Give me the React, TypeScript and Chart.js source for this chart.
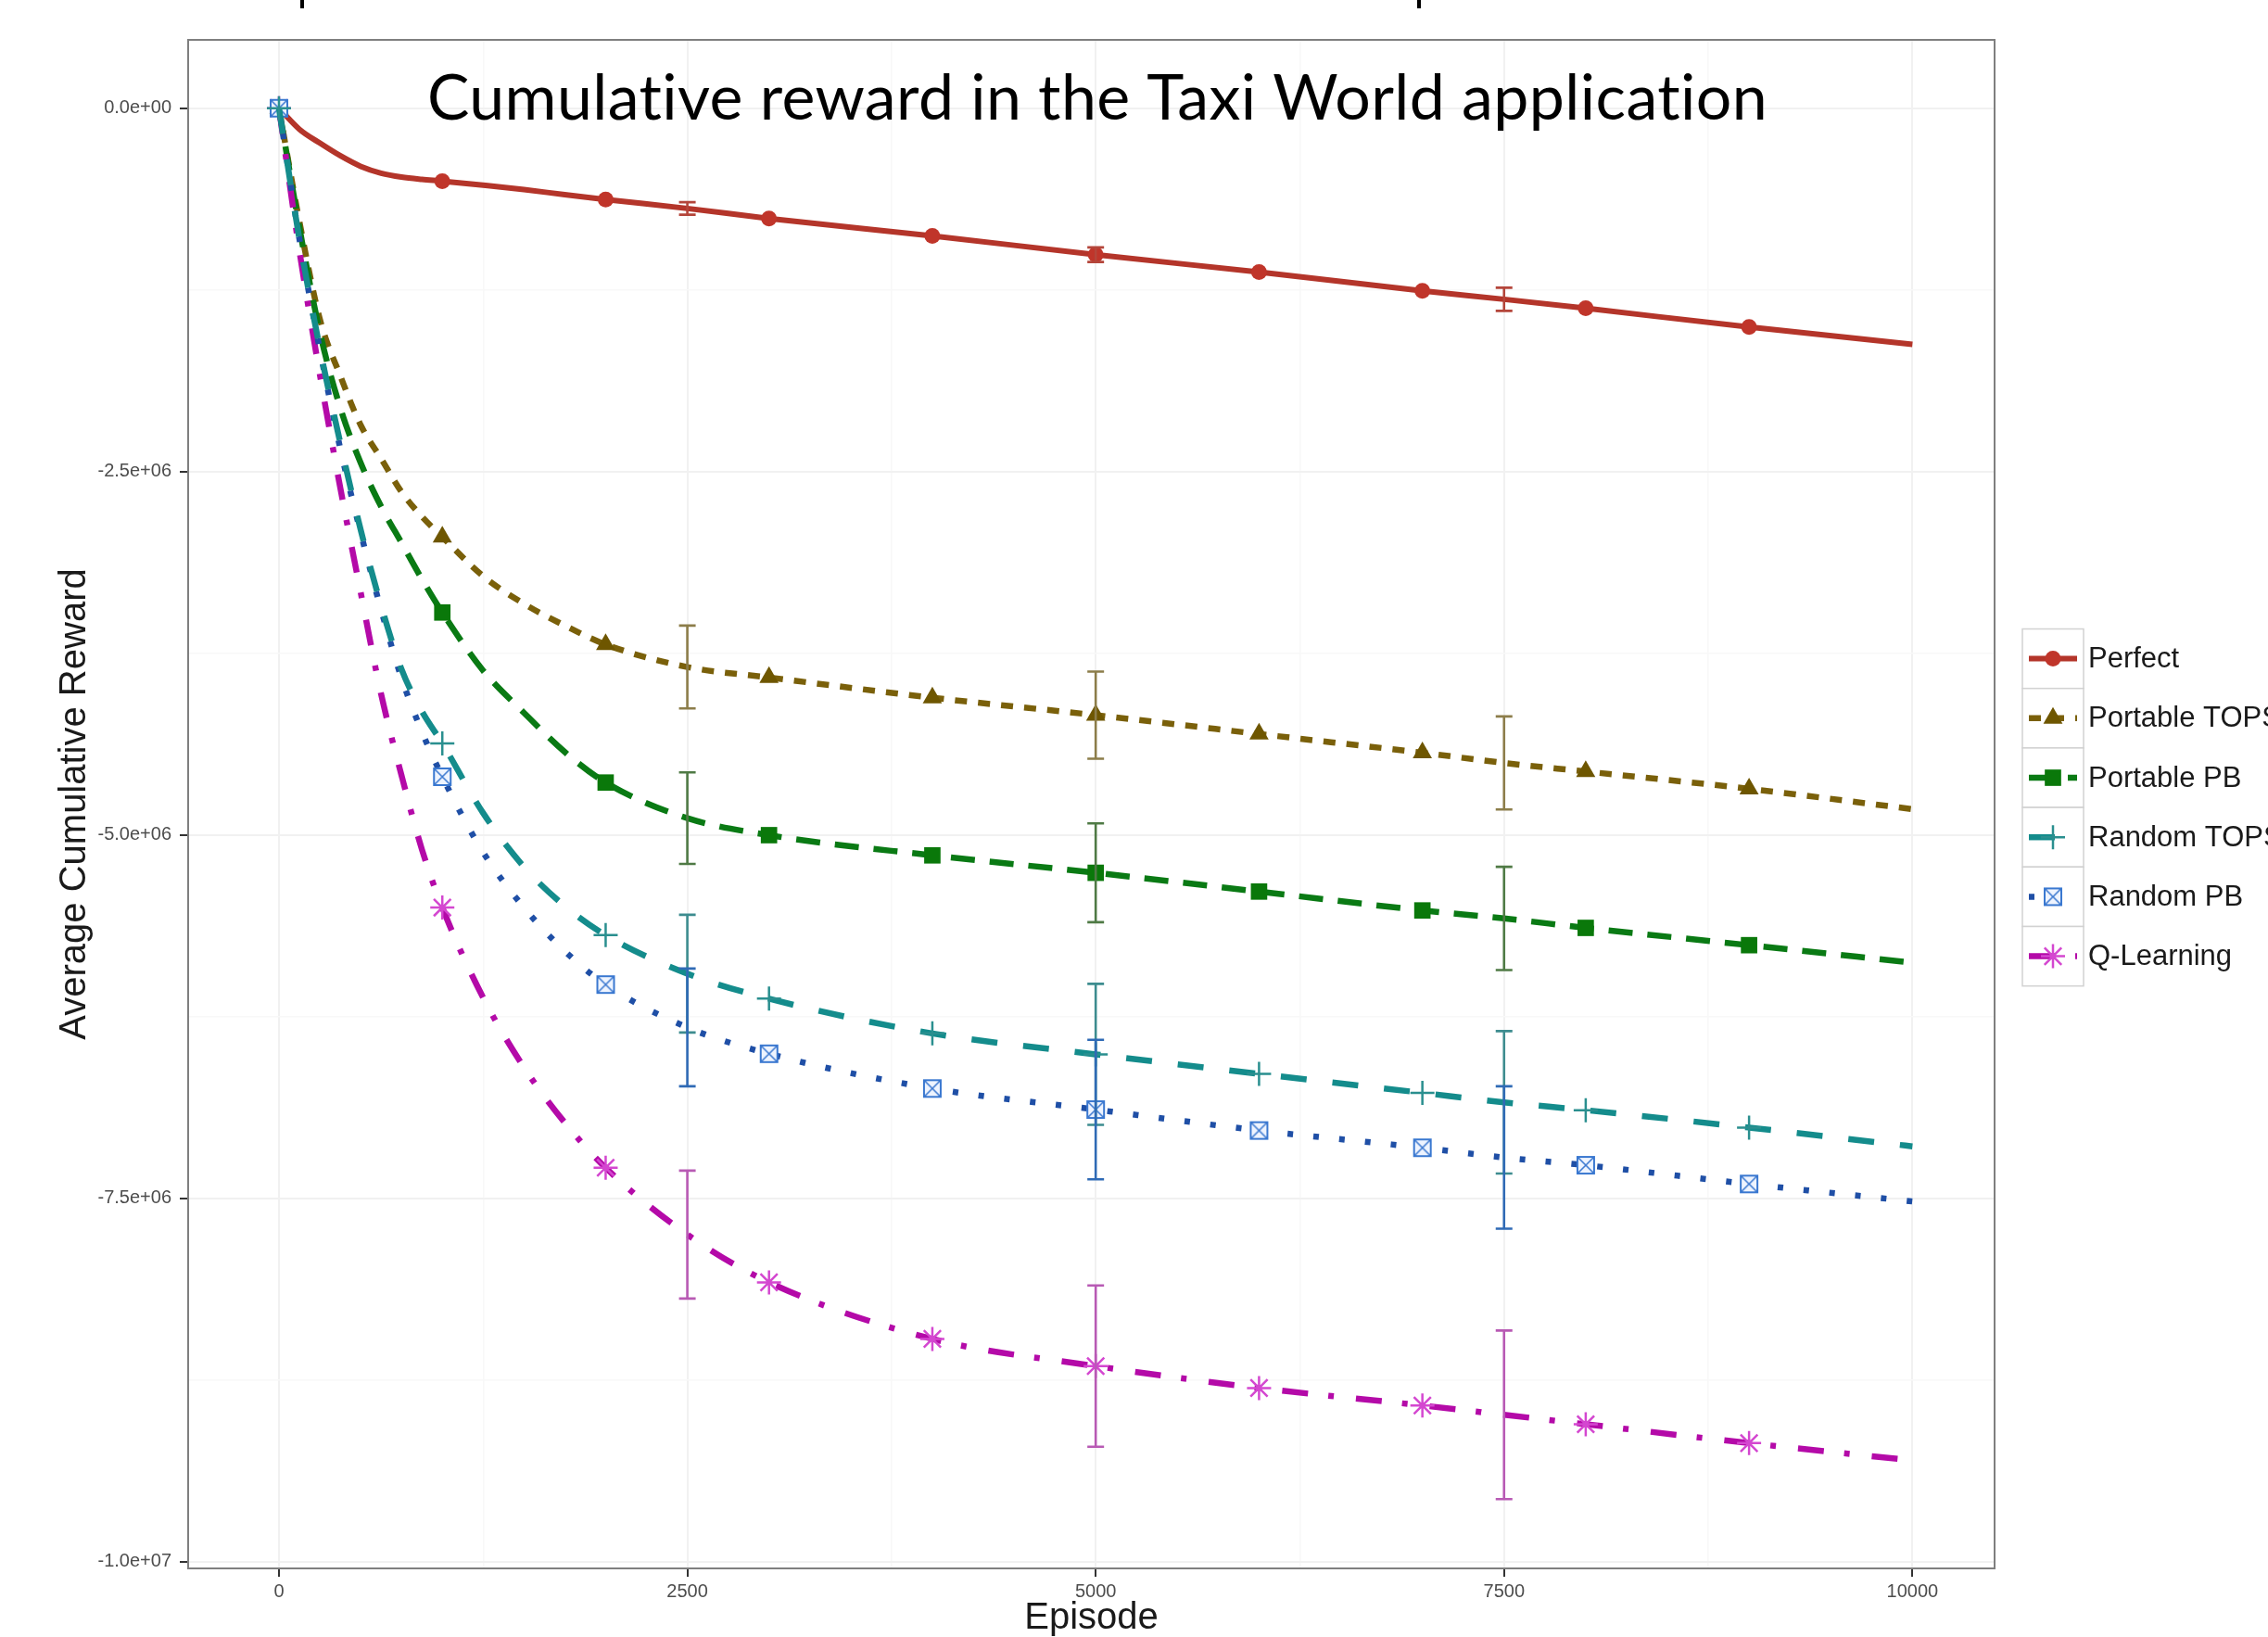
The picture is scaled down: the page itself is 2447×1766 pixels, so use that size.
import React, { useEffect, useRef } from 'react';
import { Chart, registerables } from 'chart.js';

Chart.register(...registerables);

// ---------------- data ----------------
const episodes = [0, 125, 250, 375, 500, 625, 750, 875, 1000, 1250, 1500, 1750, 2000, 2500, 3000, 4000, 5000, 6000, 7000, 7500, 8000, 9000, 10000];

const perfect = [0, -145000, -240000, -327000, -400000, -447000, -474000, -490000, -502000, -530000, -560000, -595000, -628000, -690000, -759000, -879000, -1008000, -1128000, -1257000, -1315000, -1377000, -1506000, -1625000];
const portableTops = [0, -780000, -1450000, -1840000, -2180000, -2410000, -2640000, -2810000, -2950000, -3220000, -3410000, -3560000, -3690000, -3845000, -3917000, -4056000, -4176000, -4306000, -4435000, -4505000, -4564000, -4683000, -4823000];
const portablePb = [0, -820000, -1540000, -2060000, -2440000, -2740000, -2990000, -3240000, -3470000, -3870000, -4160000, -4430000, -4640000, -4885000, -5002000, -5141000, -5261000, -5390000, -5520000, -5575000, -5640000, -5759000, -5879000];
const randomTops = [0, -900000, -1650000, -2300000, -2900000, -3420000, -3860000, -4150000, -4370000, -4850000, -5220000, -5490000, -5690000, -5955000, -6127000, -6366000, -6510000, -6645000, -6775000, -6840000, -6894000, -7014000, -7143000];
const randomPb = [0, -900000, -1660000, -2340000, -2920000, -3450000, -3920000, -4290000, -4600000, -5120000, -5500000, -5800000, -6030000, -6325000, -6506000, -6745000, -6890000, -7034000, -7153000, -7220000, -7273000, -7402000, -7522000];
const qLearning = [0, -980000, -1830000, -2610000, -3330000, -4030000, -4590000, -5100000, -5500000, -6120000, -6600000, -6980000, -7290000, -7750000, -8079000, -8468000, -8655000, -8806000, -8926000, -8990000, -9055000, -9185000, -9304000];

const errorEpisodes = [2500, 5000, 7500];
const perfectErr = [43000, 50000, 80000];
const portableTopsErr = [285000, 300000, 320000];
const portablePbErr = [315000, 340000, 355000];
const randomTopsErr = [405000, 485000, 490000];
const randomPbErr = [405000, 480000, 490000];
const qLearningErr = [440000, 555000, 580000];

const seriesNames = ['Perfect', 'Portable TOPS', 'Portable PB', 'Random TOPS', 'Random PB', 'Q-Learning'];
const markerEpisodes = [0, 1000, 2000, 3000, 4000, 5000, 6000, 7000, 8000, 9000];

const xTickValues = [0, 2500, 5000, 7500, 10000];
const xTickLabels = ['0', '2500', '5000', '7500', '10000'];
const xMinorTicks = [1250, 3750, 6250, 8750];
const yTickValues = [-10000000, -7500000, -5000000, -2500000, 0];
const yTickLabels = ['-1.0e+07', '-7.5e+06', '-5.0e+06', '-2.5e+06', '0.0e+00'];
const yMinorTicks = [-8750000, -6250000, -3750000, -1250000];

const overlayTitle = 'Cumulative reward in the Taxi World application';
const xTitle = 'Episode';
const yTitle = 'Average Cumulative Reward';

// ---------------- styles ----------------
const FONT = "'Liberation Sans', Arial, Helvetica, sans-serif";

const STYLES: any[] = [
  { color: '#b4352a', dash: [], width: 6, marker: 'circle', radius: 8.5, markerColor: '#c0352a', markerLine: 0, errColor: '#b4453a', order: 5 },
  { color: '#7a600a', dash: [13, 12], width: 6.5, marker: 'triangle', radius: 12, markerColor: '#6e5600', markerLine: 0, errColor: '#8c7d4a', order: 4 },
  { color: '#0a7a14', dash: [26, 16], width: 6.5, marker: 'rect', radius: 12.5, markerColor: '#0a780a', markerLine: 0, errColor: '#4f7a45', order: 3 },
  { color: '#148c8c', dash: [28, 28], width: 6.5, marker: 'cross', radius: 13, markerColor: '#2a8f8f', markerLine: 2.5, errColor: '#3d8c8f', order: 0 },
  { color: '#1f4fa6', dash: [6, 22], width: 6.5, marker: 'boxX', radius: 11, markerColor: '#3a78d0', markerLine: 2, errColor: '#2f6ab5', order: 1 },
  { color: '#b40aa8', dash: [28, 22, 6, 24], width: 6.5, marker: 'star', radius: 13, markerColor: '#d447d0', markerLine: 2.5, errColor: '#b85ab4', order: 2 },
];

function makeBoxX(color: string): HTMLCanvasElement {
  const c = document.createElement('canvas');
  c.width = 24;
  c.height = 24;
  const g = c.getContext('2d') as CanvasRenderingContext2D;
  g.fillStyle = '#eef4ff';
  g.fillRect(3, 3, 18, 18);
  g.strokeStyle = color;
  g.lineWidth = 2;
  g.strokeRect(3, 3, 18, 18);
  g.beginPath();
  g.moveTo(4, 4);
  g.lineTo(20, 20);
  g.moveTo(20, 4);
  g.lineTo(4, 20);
  g.lineWidth = 1.6;
  g.stroke();
  return c;
}

function drawMarker(ctx: CanvasRenderingContext2D, st: any, x: number, y: number) {
  ctx.save();
  ctx.setLineDash([]);
  ctx.fillStyle = st.markerColor;
  ctx.strokeStyle = st.markerColor;
  ctx.lineWidth = st.markerLine || 1;
  const r = st.radius;
  ctx.beginPath();
  if (st.marker === 'circle') {
    ctx.arc(x, y, r, 0, Math.PI * 2);
    ctx.fill();
  } else if (st.marker === 'triangle') {
    for (let k = 0; k < 3; k++) {
      const a = (k * 2 * Math.PI) / 3;
      const px = x + Math.sin(a) * r;
      const py = y - Math.cos(a) * r;
      if (k === 0) ctx.moveTo(px, py);
      else ctx.lineTo(px, py);
    }
    ctx.closePath();
    ctx.fill();
  } else if (st.marker === 'rect') {
    const s = r * Math.SQRT1_2;
    ctx.fillRect(x - s, y - s, 2 * s, 2 * s);
  } else if (st.marker === 'cross') {
    ctx.moveTo(x - r, y);
    ctx.lineTo(x + r, y);
    ctx.moveTo(x, y - r);
    ctx.lineTo(x, y + r);
    ctx.stroke();
  } else if (st.marker === 'star') {
    const d = r * Math.SQRT1_2;
    ctx.moveTo(x - r, y);
    ctx.lineTo(x + r, y);
    ctx.moveTo(x, y - r);
    ctx.lineTo(x, y + r);
    ctx.moveTo(x - d, y - d);
    ctx.lineTo(x + d, y + d);
    ctx.moveTo(x + d, y - d);
    ctx.lineTo(x - d, y + d);
    ctx.stroke();
  } else if (st.marker === 'boxX' && st.image) {
    ctx.drawImage(st.image, x - st.image.width / 2, y - st.image.height / 2);
  }
  ctx.restore();
}

const errorSets = [perfectErr, portableTopsErr, portablePbErr, randomTopsErr, randomPbErr, qLearningErr];
const seriesValues = [perfect, portableTops, portablePb, randomTops, randomPb, qLearning];

const errorBarPlugin = {
  id: 'errorBars',
  afterDatasetsDraw(chart: any) {
    const { ctx, scales } = chart;
    const xs = scales.x;
    const ys = scales.y;
    chart.data.datasets.forEach((ds: any, i: number) => {
      const errs = errorSets[i];
      errorEpisodes.forEach((ep, j) => {
        const pt = ds.data.find((p: any) => p.x === ep);
        if (!pt) return;
        const px = xs.getPixelForValue(ep);
        const yHi = ys.getPixelForValue(pt.y + errs[j]);
        const yLo = ys.getPixelForValue(pt.y - errs[j]);
        ctx.save();
        ctx.setLineDash([]);
        ctx.strokeStyle = STYLES[i].errColor;
        ctx.lineWidth = 2.6;
        ctx.beginPath();
        ctx.moveTo(px, yHi);
        ctx.lineTo(px, yLo);
        ctx.moveTo(px - 9, yHi);
        ctx.lineTo(px + 9, yHi);
        ctx.moveTo(px - 9, yLo);
        ctx.lineTo(px + 9, yLo);
        ctx.stroke();
        ctx.restore();
      });
    });
  },
};

const decorPlugin = {
  id: 'decor',
  afterDraw(chart: any) {
    const { ctx, chartArea } = chart;
    ctx.save();
    // panel border
    ctx.strokeStyle = '#7f7f7f';
    ctx.lineWidth = 2;
    ctx.setLineDash([]);
    ctx.strokeRect(chartArea.left, chartArea.top, chartArea.right - chartArea.left, chartArea.bottom - chartArea.top);

    // overlay title
    ctx.save();
    ctx.fillStyle = '#000000';
    ctx.font = "68px Lato, 'Open Sans', sans-serif";
    try {
      (ctx as any).textRendering = 'optimizeSpeed';
      (ctx as any).letterSpacing = '0.4px';
    } catch (e) {
      /* ignore */
    }
    ctx.textBaseline = 'alphabetic';
    ctx.textAlign = 'left';
    const w = ctx.measureText(overlayTitle).width;
    ctx.translate(461, 128.5);
    ctx.scale(1446 / w, 1);
    ctx.fillText(overlayTitle, 0, 0);
    ctx.restore();

    // cut-off fragments at the very top
    ctx.fillStyle = '#000000';
    ctx.fillRect(324, 0, 4, 9);
    ctx.fillRect(1529, 0, 4, 9);

    // legend
    const keyLeft = 2182;
    const keyW = 66;
    const keyTop = 678.5;
    const keyH = 64.2;
    const textX = 2253;
    chart.data.datasets.forEach((ds: any, i: number) => {
      const top = keyTop + i * keyH;
      const cy = top + keyH / 2;
      ctx.fillStyle = '#ffffff';
      ctx.fillRect(keyLeft, top, keyW, keyH);
      ctx.strokeStyle = '#d2d2d2';
      ctx.lineWidth = 1.5;
      ctx.setLineDash([]);
      ctx.strokeRect(keyLeft, top, keyW, keyH);
      ctx.beginPath();
      ctx.setLineDash(ds.borderDash || []);
      ctx.lineCap = 'butt';
      ctx.lineWidth = ds.borderWidth;
      ctx.strokeStyle = ds.borderColor;
      ctx.moveTo(keyLeft + 7, cy);
      ctx.lineTo(keyLeft + keyW - 7, cy);
      ctx.stroke();
      ctx.setLineDash([]);
      drawMarker(ctx, STYLES[i], keyLeft + keyW / 2, cy);
      ctx.fillStyle = '#1a1a1a';
      ctx.font = `31px ${FONT}`;
      ctx.textBaseline = 'middle';
      ctx.textAlign = 'left';
      ctx.fillText(ds.label, textX, cy + 1);
    });
    ctx.restore();
  },
};

export default function App() {
  const ref = useRef<HTMLCanvasElement | null>(null);

  useEffect(() => {
    const canvas = ref.current;
    if (!canvas) return;
    STYLES[4].image = makeBoxX(STYLES[4].markerColor);

    const datasets = seriesValues.map((vals, i) => {
      const st = STYLES[i];
      let pointStyle: any = st.marker;
      if (st.marker === 'boxX') pointStyle = st.image;
      return {
        label: seriesNames[i],
        order: st.order,
        data: episodes.map((e, k) => ({ x: e, y: vals[k] })),
        borderColor: st.color,
        backgroundColor: st.color,
        borderWidth: st.width,
        borderDash: st.dash,
        borderCapStyle: 'butt',
        cubicInterpolationMode: 'monotone',
        fill: false,
        pointStyle,
        pointRadius: (c: any) => (c.raw && markerEpisodes.includes(c.raw.x) ? st.radius : 0),
        pointBackgroundColor: st.markerColor,
        pointBorderColor: st.markerColor,
        pointBorderWidth: st.markerLine,
      };
    });

    const isMajorX = (v: any) => xTickValues.includes(v);
    const isMajorY = (v: any) => yTickValues.includes(v);

    const chart = new Chart(canvas, {
      type: 'line',
      data: { datasets } as any,
      options: {
        responsive: false,
        devicePixelRatio: 1,
        animation: false,
        events: [],
        layout: { padding: { left: 0, top: 43, right: 295, bottom: 0 } },
        plugins: { legend: { display: false }, tooltip: { enabled: false } },
        scales: {
          x: {
            type: 'linear',
            min: -556,
            max: 10503,
            afterBuildTicks: (scale: any) => {
              scale.ticks = [...xTickValues, ...xMinorTicks].sort((a, b) => a - b).map((v) => ({ value: v }));
            },
            afterFit: (scale: any) => {
              scale.height = 74;
            },
            ticks: {
              autoSkip: false,
              maxRotation: 0,
              padding: 4,
              color: '#4d4d4d',
              font: { family: FONT, size: 20 },
              callback: (v: any) => {
                const i = xTickValues.indexOf(v);
                return i >= 0 ? xTickLabels[i] : '';
              },
            },
            grid: {
              color: (c: any) => (c.tick && isMajorX(c.tick.value) ? '#f1f1f1' : '#f8f8f8'),
              lineWidth: (c: any) => (c.tick && isMajorX(c.tick.value) ? 2 : 1.5),
              tickColor: (c: any) => (c.tick && isMajorX(c.tick.value) ? '#333333' : 'rgba(0,0,0,0)'),
              tickLength: 9,
              tickWidth: 2,
            },
            border: { display: false },
            title: {
              display: true,
              text: xTitle,
              color: '#1a1a1a',
              font: { family: FONT, size: 40, lineHeight: 1 },
              padding: { top: 0, bottom: 0 },
            },
          },
          y: {
            type: 'linear',
            min: -10047000,
            max: 470000,
            afterBuildTicks: (scale: any) => {
              scale.ticks = [...yTickValues, ...yMinorTicks].sort((a, b) => a - b).map((v) => ({ value: v }));
            },
            afterFit: (scale: any) => {
              scale.width = 203;
            },
            ticks: {
              autoSkip: false,
              padding: 9,
              color: '#4d4d4d',
              font: { family: FONT, size: 20 },
              callback: (v: any) => {
                const i = yTickValues.indexOf(v);
                return i >= 0 ? yTickLabels[i] : '';
              },
            },
            grid: {
              color: (c: any) => (c.tick && isMajorY(c.tick.value) ? '#f1f1f1' : '#f8f8f8'),
              lineWidth: (c: any) => (c.tick && isMajorY(c.tick.value) ? 2 : 1.5),
              tickColor: (c: any) => (c.tick && isMajorY(c.tick.value) ? '#333333' : 'rgba(0,0,0,0)'),
              tickLength: 9,
              tickWidth: 2,
            },
            border: { display: false },
            title: {
              display: true,
              text: yTitle,
              color: '#1a1a1a',
              font: { family: FONT, size: 40, lineHeight: 1 },
              padding: { top: 61, bottom: 0 },
            },
          },
        },
      } as any,
      plugins: [errorBarPlugin, decorPlugin],
    });

    return () => {
      chart.destroy();
    };
  }, []);

  return (
    <div style={{ position: 'absolute', left: 0, top: 0, width: 2447, height: 1766, background: '#ffffff', overflow: 'hidden' }}>
      <canvas ref={ref} width={2447} height={1766} style={{ display: 'block', width: 2447, height: 1766 }} />
    </div>
  );
}
